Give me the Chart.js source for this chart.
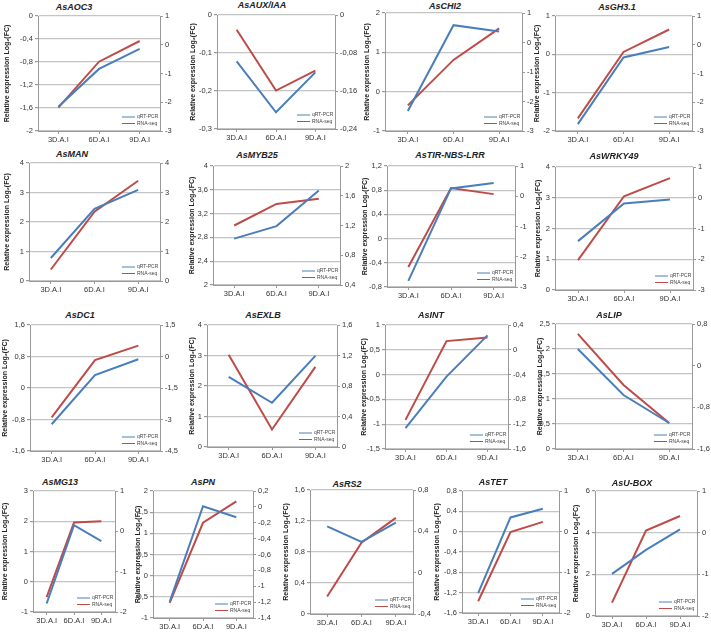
<!DOCTYPE html>
<html>
<head>
<meta charset="utf-8">
<script src="https://cdn.jsdelivr.net/npm/chart.js@4.4.1/dist/chart.umd.min.js"></script>
<style>
body{margin:0;background:#fff;}
#wrap{position:relative;width:711px;height:637px;overflow:hidden;background:#fff;}
#wrap canvas{position:absolute;}
.gt{position:absolute;font:italic bold 9px "Liberation Sans",Arial,sans-serif;color:#222;transform:translate(-50%,-50%);white-space:nowrap;}
</style>
</head>
<body>
<div id="wrap"></div>
<script>
const days = ['3D.A.I', '6D.A.I', '9D.A.I'];
const genes = ['AsAOC3', 'AsAUX/IAA', 'AsCHI2', 'AsGH3.1',
               'AsMAN', 'AsMYB25', 'AsTIR-NBS-LRR', 'AsWRKY49',
               'AsDC1', 'AsEXLB', 'AsINT', 'AsLIP',
               'AsMG13', 'AsPN', 'AsRS2', 'AsTET', 'AsU-BOX'];

// left axis
const qrtPcr = [
  [-1.58, -0.92, -0.57], [-0.122, -0.256, -0.151], [-0.49, 1.69, 1.53], [-1.82, -0.08, 0.19],
  [0.78, 2.45, 3.09], [2.78, 2.99, 3.59], [-0.70, 0.83, 0.92], [1.59, 2.81, 2.94],
  [-0.92, 0.33, 0.73], [2.30, 1.45, 2.99], [-1.08, -0.04, 0.79], [2.0, 1.08, 0.52],
  [-0.72, 1.87, 1.34], [-0.62, 1.64, 1.38], [1.13, 0.93, 1.18], [-1.21, 0.28, 0.45], [2.02, 3.17, 4.16]
];
// right axis
const rnaSeq = [
  [-2.19, -0.59, 0.13], [-0.031, -0.159, -0.117], [-2.13, -0.59, 0.48], [-2.56, -0.25, 0.53],
  [0.39, 2.35, 3.40], [1.20, 1.49, 1.56], [-2.34, 0.27, 0.07], [-2.03, 0.05, 0.64],
  [-2.90, -0.17, 0.52], [1.21, 0.23, 1.05], [-1.13, 0.14, 0.20], [0.61, -0.37, -1.10],
  [-1.63, 0.22, 0.25], [-1.21, -0.20, 0.07], [-0.23, 0.29, 0.53], [-1.71, -0.01, 0.24], [-1.68, 0.05, 0.40]
];

// [min, max, step]
const leftTicks = [
  [-2, 0, 0.4], [-0.3, 0, 0.1], [-1, 2, 1], [-2, 1, 1],
  [0, 4, 1], [2, 4, 0.4], [-0.8, 1.2, 0.4], [0, 4, 1],
  [-1.6, 1.6, 0.8], [0, 4, 1], [-1.5, 1, 0.5], [0, 2.5, 0.5],
  [-1, 3, 1], [-1, 2, 0.5], [0, 1.6, 0.4], [-1.6, 0.8, 0.4], [0, 6, 2]
];
const rightTicks = [
  [-3, 1, 1], [-0.24, 0, 0.08], [-3, 1, 1], [-3, 1, 1],
  [0, 4, 1], [0.4, 2, 0.4], [-3, 1, 1], [-3, 1, 1],
  [-4.5, 1.5, 1.5], [0, 1.6, 0.4], [-1.6, 0.4, 0.4], [-1.6, 0.8, 0.8],
  [-2, 1, 1], [-1.4, 0.2, 0.2], [-0.4, 0.8, 0.4], [-2, 1, 1], [-2, 1, 1]
];

// plot box on the page: left, right, top, bottom, y title x, title x, title y
const boxes = [
  [38, 160, 16, 131, 7, 74, 7], [217, 335, 15, 129, 193, 262, 5], [385, 522, 13, 131, 367, 445, 6], [555, 692, 16, 131, 537, 617, 7],
  [29, 160, 163, 281, 7, 72, 154], [213, 340, 166, 285, 192, 257, 155], [387, 515, 166, 287, 365, 450, 155], [555, 693, 167, 290, 538, 614, 156],
  [30, 160, 325, 451, 5, 80, 315], [207, 337, 325, 447, 192, 263, 315], [385, 508, 325, 449, 364, 431, 315], [555, 692, 324, 449, 540, 609, 315],
  [33, 115, 491, 612, 5, 60, 482], [153, 253, 491, 618, 138, 203, 482], [310, 413, 490, 614, 286, 347, 484], [462, 559, 491, 613, 437, 493, 482], [595, 697, 491, 616, 576, 632, 483]
];

const blue = '#4A7EBB';
const red = '#BE4B48';
const fontName = '"Liberation Sans", Arial, sans-serif';
const fmt = v => String(Number(v.toFixed(2))).replace('.', ',');

const innerLegend = {
  id: 'innerLegend',
  afterDatasetsDraw(chart) {
    const ctx = chart.ctx;
    const a = chart.chartArea;
    ctx.save();
    ctx.font = '5px ' + fontName;
    ctx.textBaseline = 'middle';
    chart.data.datasets.forEach((ds, k) => {
      const y = a.bottom - 14 + k * 6.5;
      ctx.strokeStyle = ds.borderColor;
      ctx.lineWidth = 1;
      ctx.beginPath();
      ctx.moveTo(a.right - 38, y);
      ctx.lineTo(a.right - 25, y);
      ctx.stroke();
      ctx.fillStyle = '#444';
      ctx.fillText(ds.label, a.right - 23, y);
    });
    ctx.restore();
  }
};

const wrap = document.getElementById('wrap');

genes.forEach((gene, i) => {
  const b = boxes[i];
  const cx = b[4] - 4;
  const cy = b[2] - 8;
  const cw = b[1] + 26 - cx;
  const ch = b[3] + 18 - cy;

  const t = document.createElement('div');
  t.className = 'gt';
  t.textContent = gene;
  t.style.left = b[5] + 'px';
  t.style.top = b[6] + 'px';
  wrap.appendChild(t);

  const canvas = document.createElement('canvas');
  canvas.width = cw;
  canvas.height = ch;
  canvas.style.left = cx + 'px';
  canvas.style.top = cy + 'px';
  canvas.style.width = cw + 'px';
  canvas.style.height = ch + 'px';
  wrap.appendChild(canvas);

  const tickFont = { family: fontName, size: 7.5 };

  new Chart(canvas, {
    type: 'line',
    data: {
      labels: days,
      datasets: [
        { label: 'qRT-PCR', data: qrtPcr[i], borderColor: blue, yAxisID: 'y' },
        { label: 'RNA-seq', data: rnaSeq[i], borderColor: red, yAxisID: 'y1' }
      ]
    },
    options: {
      responsive: false,
      animation: false,
      devicePixelRatio: 1,
      layout: { padding: { top: 8, left: 0, right: 0, bottom: 0 } },
      elements: {
        point: { radius: 0 },
        line: { borderWidth: 2, tension: 0 }
      },
      plugins: {
        legend: { display: false },
        title: { display: false },
        tooltip: { enabled: false }
      },
      scales: {
        x: {
          offset: true,
          grid: { drawOnChartArea: false, tickLength: 3, color: '#999' },
          border: { color: '#999' },
          ticks: { font: tickFont, color: '#333', padding: 1, maxRotation: 0 },
          afterFit(s) { s.height = 18; }
        },
        y: {
          position: 'left',
          min: leftTicks[i][0],
          max: leftTicks[i][1],
          ticks: { stepSize: leftTicks[i][2], callback: fmt, font: tickFont, color: '#333', padding: 2 },
          grid: { color: '#c4c4c4', lineWidth: 1.2, tickLength: 3, tickColor: '#999' },
          border: { color: '#999' },
          title: {
            display: true,
            text: 'Relative expression Log\u2082(FC)',
            font: { family: fontName, size: 7, weight: 'bold' },
            color: '#222',
            padding: 0
          },
          afterFit(s) { s.width = b[0] - cx; }
        },
        y1: {
          position: 'right',
          min: rightTicks[i][0],
          max: rightTicks[i][1],
          ticks: { stepSize: rightTicks[i][2], callback: fmt, font: tickFont, color: '#333', padding: 2 },
          grid: { drawOnChartArea: false, tickLength: 3, color: '#999' },
          border: { color: '#999' },
          afterFit(s) { s.width = cw - b[1] + cx; }
        }
      }
    },
    plugins: [innerLegend]
  });
});
</script>
</body>
</html>
